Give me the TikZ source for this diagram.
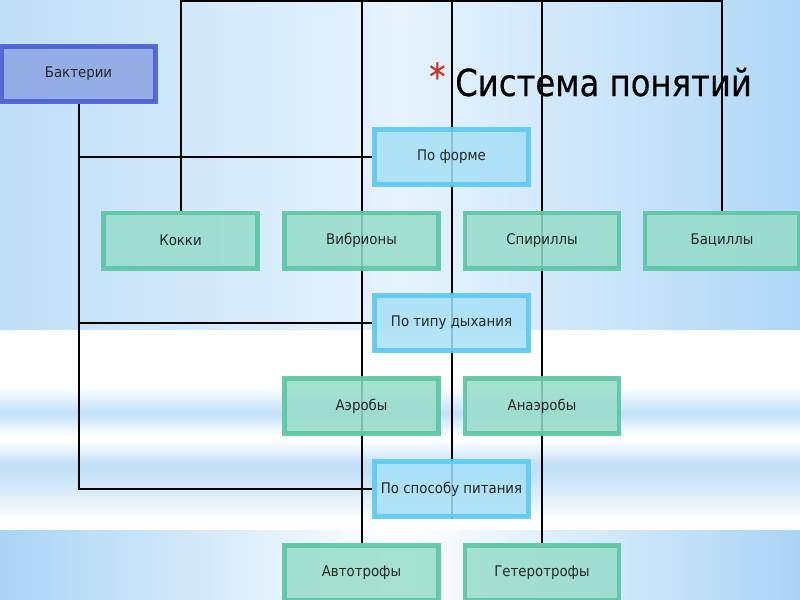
\documentclass[tikz,border=0pt]{standalone}
\usepackage{fontspec}
\setmainfont{DejaVu Sans}
\newfontfamily\titlefont[FakeStretch=0.865,FakeBold=0.4]{DejaVu Sans}
\newfontfamily\boxfont[FakeStretch=0.91]{DejaVu Sans}
\pgfdeclarelayer{back}
\pgfdeclarelayer{lines}
\pgfsetlayers{back,lines,main}
\definecolor{bgL}{HTML}{BEDEF7}
\definecolor{bgM}{HTML}{E6F3FD}
\definecolor{bgR}{HTML}{B0D7F6}
\definecolor{stripe}{HTML}{C2E0F7}
\definecolor{botB}{HTML}{A9D4F5}
\definecolor{grfill}{HTML}{96DCC9}
\definecolor{grdraw}{HTML}{5BC6A3}
\definecolor{blfill}{HTML}{A6E0F7}
\definecolor{bldraw}{HTML}{5CCAF1}
\definecolor{bafill}{HTML}{8BA4E3}
\definecolor{badraw}{HTML}{4A5ED0}
\definecolor{txt}{HTML}{262626}
\definecolor{star}{HTML}{C8342A}
\begin{document}
\begin{tikzpicture}[x=0.75pt,y=-0.75pt,
  box/.style={rectangle, line width=3.6pt, minimum width=115.6pt, minimum height=41.4pt,
    inner sep=0pt, text=txt, font=\boxfont\fontsize{11}{13}\selectfont, fill opacity=0.85, draw opacity=0.9, text opacity=1},
  greenbox/.style={box, fill=grfill, draw=grdraw},
  bluebox/.style={box, fill=blfill, draw=bldraw},
  rootbox/.style={box, fill=bafill, draw=badraw, minimum width=115pt},
  conn/.style={line width=1.5pt, black}]
\useasboundingbox (0,0) rectangle (800,600);

% nodes
\node[rootbox] (bakt) at (78.5,74) {Бактерии};
\node[bluebox] (forme) at (451.5,157) {По форме};
\node[greenbox] (kokki) at (180.5,240.5) {Кокки};
\node[greenbox] (vib) at (361.5,240.5) {Вибрионы};
\node[greenbox] (spir) at (542,240.5) {Спириллы};
\node[greenbox] (bac) at (722,240.5) {Бациллы};
\node[bluebox] (dyh) at (451.5,323) {По типу дыхания};
\node[greenbox] (aer) at (361.5,406) {Аэробы};
\node[greenbox] (anaer) at (542,406) {Анаэробы};
\node[bluebox] (pit) at (451.5,489) {По способу питания};
\node[greenbox] (avto) at (361.5,573) {Автотрофы};
\node[greenbox] (getero) at (542,573) {Гетеротрофы};

\node[anchor=base west, inner sep=0pt, text=star, font=\titlefont\fontsize{28}{30}\selectfont] (ast) at (429,90) {*};
\node[anchor=base west, inner sep=0pt, text=black, font=\titlefont\fontsize{28}{30}\selectfont] (title) at (455,96) {Система понятий};

\begin{pgfonlayer}{back}
  \clip (0,0) rectangle (800,600);
  \shade[left color=bgL, right color=bgR, middle color=bgM] (0,0) rectangle (800,330);
  \fill[white] (0,330) rectangle (800,530);
  \shade[top color=white, bottom color=stripe] (0,386) rectangle (800,413);
  \shade[top color=stripe, bottom color=white] (0,413) rectangle (800,436);
  \shade[top color=white, bottom color=stripe] (0,440) rectangle (800,464);
  \fill[stripe] (0,464) rectangle (800,472);
  \shade[top color=stripe, bottom color=white] (0,472) rectangle (800,522);
  \shade[left color=botB, right color=botB, middle color=white] (0,530) rectangle (800,600);
\end{pgfonlayer}

\begin{pgfonlayer}{lines}
  \clip (0,0) rectangle (800,600);
  \coordinate (top) at (0,1);
  \draw[conn] (kokki.north) -- (kokki.north |- top) -- (bac.north |- top) -- (bac.north);
  \draw[conn] (vib.north |- top) -- (avto.north);
  \draw[conn] (forme.north |- top) -- (pit.south);
  \draw[conn] (spir.north |- top) -- (getero.north);
  \draw[conn] (bakt.south) -- (bakt.south |- pit.west) -- (pit.west);
  \draw[conn] (bakt.south |- forme.west) -- (forme.west);
  \draw[conn] (bakt.south |- dyh.west) -- (dyh.west);
\end{pgfonlayer}
\end{tikzpicture}
\end{document}
